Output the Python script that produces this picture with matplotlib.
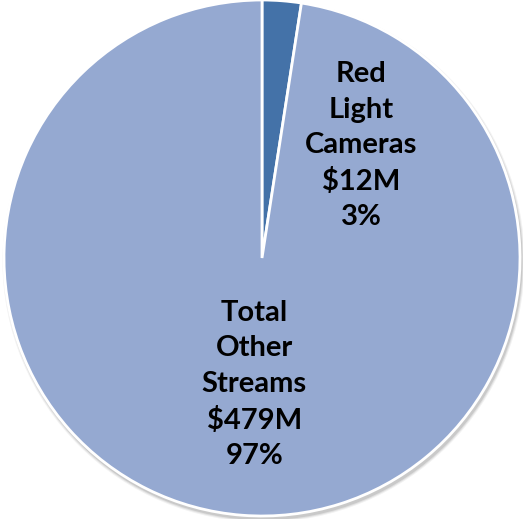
import matplotlib.pyplot as plt
from matplotlib.patches import Circle

labels = ["Red\nLight\nCameras\n$12M\n3%", "Total\nOther\nStreams\n$479M\n97%"]
values = [12, 479]
colors = ["#4472A8", "#95A9D1"]

fig = plt.figure(figsize=(5.23, 5.19), dpi=100)
ax = fig.add_axes([0, 0, 1, 1])

# soft shadow under the pie
for i, a in enumerate([0.05, 0.07, 0.1]):
    ax.add_patch(Circle((0.006, -0.012), 1.0 + 0.012 - i * 0.004, color="black", alpha=a, lw=0, zorder=0))

wedges, _ = ax.pie(values, colors=colors, startangle=90, counterclock=False, radius=1.0,
                   wedgeprops=dict(edgecolor="white", linewidth=2))
for w in wedges:
    w.set_zorder(1)

ax.set_xlim(-1.0155, 1.0116)
ax.set_ylim(-1.0116, 1.0)
ax.set_aspect("equal")
ax.axis("off")

ax.text(0.385, 0.435, labels[0], ha="center", va="center", fontsize=21,
        fontweight="bold", family="Lato", linespacing=1.45, zorder=3)
ax.text(-0.03, -0.49, labels[1], ha="center", va="center", fontsize=21,
        fontweight="bold", family="Lato", linespacing=1.45, zorder=3)

fig.savefig("out.png", dpi=100)
